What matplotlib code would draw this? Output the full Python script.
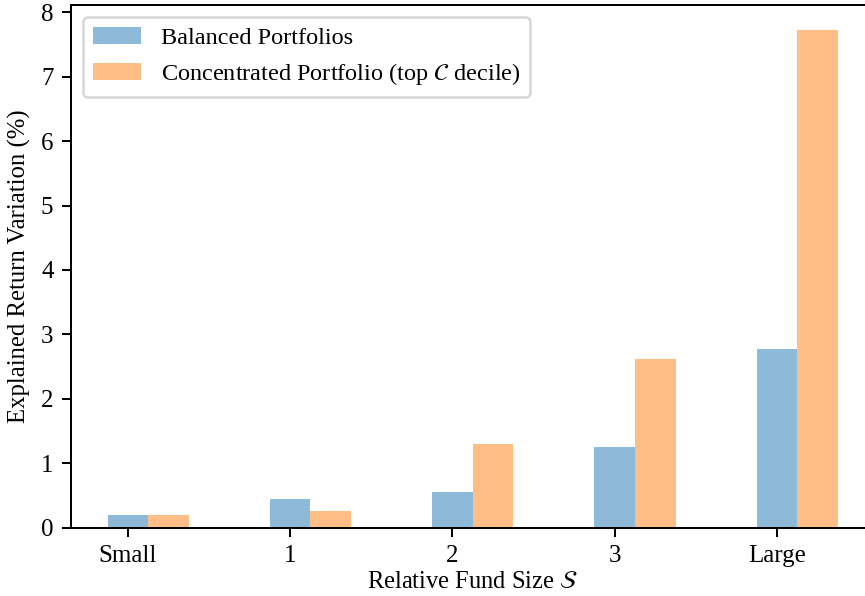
import matplotlib
matplotlib.use("Agg")
import matplotlib.pyplot as plt
import numpy as np

categories = ["Small", "1", "2", "3", "Large"]
balanced = [0.20, 0.44, 0.55, 1.25, 2.78]
concentrated = [0.20, 0.26, 1.30, 2.61, 7.73]
series_labels = ["Balanced Portfolios", r"Concentrated Portfolio (top $\mathcal{C}$ decile)"]

plt.rcParams["font.family"] = ["Liberation Serif", "DejaVu Serif"]
plt.rcParams["mathtext.fontset"] = "stix"
plt.rcParams["font.size"] = 10

fig = plt.figure(figsize=(865 / 180, 596 / 180), dpi=180)
ax = fig.add_axes([71 / 865, 68.5 / 596, 803.4 / 865, (527.5 - 5) / 596])

x = np.arange(len(categories))
w = 0.25
ax.bar(x, balanced, w, color="tab:blue", alpha=0.5, label=series_labels[0])
ax.bar(x + w, concentrated, w, color="tab:orange", alpha=0.5, label=series_labels[1])

ax.set_xticks(x)
ax.set_xticklabels(categories)
ax.set_xlabel(r"Relative Fund Size $\mathcal{S}$", fontsize=9.8, labelpad=1.6)
ax.set_ylabel("Explained Return Variation (%)", fontsize=9.9)
ax.legend(loc="upper left", fontsize=9.7)

fig.savefig("out.png", dpi=180)
